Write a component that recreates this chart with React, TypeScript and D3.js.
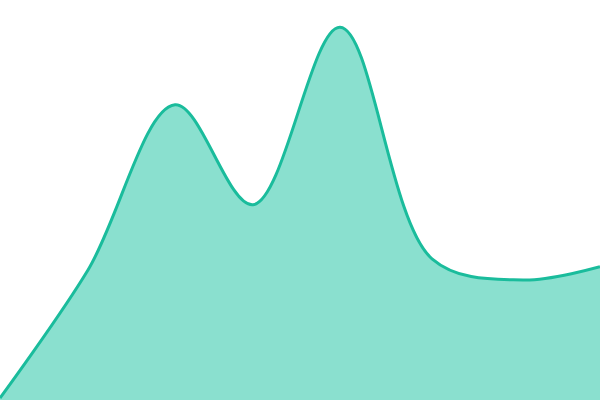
import React, { useEffect, useRef } from 'react';
import * as d3 from 'd3';

// positions along the horizontal domain and the values at them
const steps = [0, 8.8, 17.5, 25.3, 34, 43.2, 52.3, 60];
const values = [0.5, 32.5, 73.8, 48.8, 93.2, 35.3, 30, 33.3];

const WIDTH = 600;
const HEIGHT = 400;

const App: React.FC = () => {
  const svgRef = useRef<SVGSVGElement>(null);

  useEffect(() => {
    if (!svgRef.current) return;
    const svg = d3.select(svgRef.current);
    svg.selectAll('*').remove();

    const x = d3.scaleLinear().domain([0, 60]).range([0, WIDTH]);
    const y = d3.scaleLinear().domain([0, 100]).range([HEIGHT, 0]);

    const points = steps.map((s, i) => ({ s, v: values[i] }));

    const area = d3
      .area<{ s: number; v: number }>()
      .x((d) => x(d.s))
      .y0(HEIGHT + 5)
      .y1((d) => y(d.v))
      .curve(d3.curveCatmullRom);

    const line = d3
      .line<{ s: number; v: number }>()
      .x((d) => x(d.s))
      .y((d) => y(d.v))
      .curve(d3.curveCatmullRom);

    svg.append('path').datum(points).attr('d', area).attr('fill', '#8ae0cf');

    svg
      .append('path')
      .datum(points)
      .attr('d', line)
      .attr('fill', 'none')
      .attr('stroke', '#1abc9c')
      .attr('stroke-width', 3);
  }, []);

  return (
    <svg
      ref={svgRef}
      width={WIDTH}
      height={HEIGHT}
      style={{ position: 'absolute', top: 0, left: 0, background: '#fff' }}
    />
  );
};

export default App;
